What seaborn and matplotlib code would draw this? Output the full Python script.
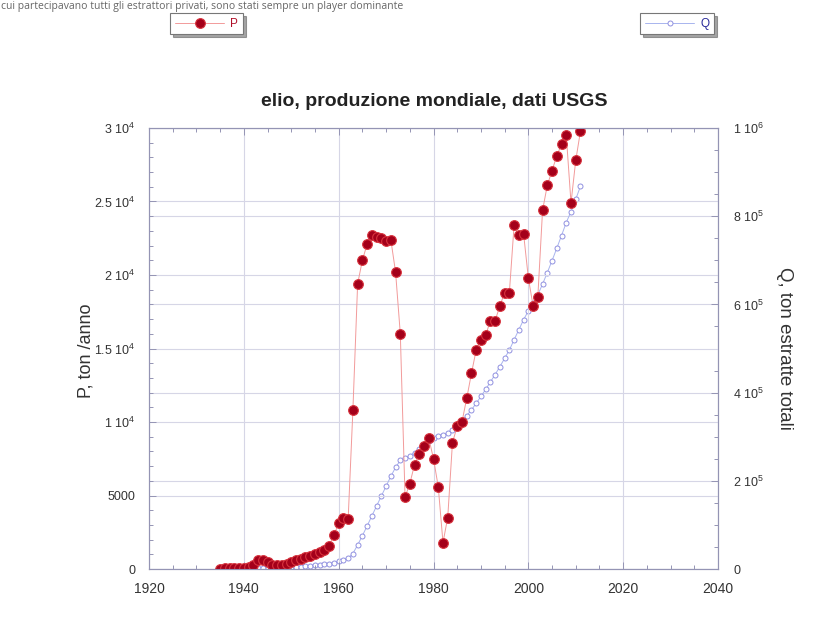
import numpy as np
import pandas as pd
import matplotlib
matplotlib.use("Agg")
import matplotlib.pyplot as plt
import seaborn as sns
from matplotlib.ticker import MultipleLocator, FixedLocator, FixedFormatter

# World helium production (P, tons/year) and cumulative extraction (Q, tons)
years = list(range(1935, 2012))
P = [30, 40, 40, 50, 60, 80, 120, 250, 600, 600,
     450, 300, 280, 300, 350, 450, 600, 700, 800, 900,
     1000, 1150, 1300, 1550, 2300, 3100, 3500, 3400, 10800, 19400,
     21000, 22100, 22700, 22600, 22500, 22300, 22400, 20200, 16000, 4900,
     5800, 7100, 7800, 8400, 8900, 7500, 5600, 1800, 3500, 8600,
     9700, 10000, 11600, 13300, 14900, 15600, 15900, 16900, 16900, 17900,
     18800, 18800, 23400, 22700, 22800, 19800, 17900, 18500, 24400, 26100,
     27100, 28100, 28900, 29500, 24900, 27800, 29800]
Q = [30, 70, 110, 160, 220, 300, 420, 670, 1270, 1870,
     2320, 2620, 2900, 3200, 3550, 4000, 4600, 5300, 6100, 7000,
     8000, 9150, 10450, 12000, 14300, 17400, 20900, 24300, 35100, 54500,
     75500, 97600, 120300, 142900, 165400, 187700, 210100, 230300, 246300, 251200,
     257000, 264100, 271900, 280300, 289200, 296700, 302300, 304100, 307600, 316200,
     325900, 335900, 347500, 360800, 375700, 391300, 407200, 424100, 441000, 458900,
     477700, 496500, 519900, 542600, 565400, 585200, 603100, 621600, 646000, 672100,
     699200, 727300, 756200, 785700, 810600, 838400, 868200]

p_ticks = [0, 5000, 10000, 15000, 20000, 25000, 30000]
p_labels = ["0", "5000", "1 10$^{4}$", "1.5 10$^{4}$", "2 10$^{4}$", "2.5 10$^{4}$", "3 10$^{4}$"]
q_ticks = [0, 200000, 400000, 600000, 800000, 1000000]
q_labels = ["0", "2 10$^{5}$", "4 10$^{5}$", "6 10$^{5}$", "8 10$^{5}$", "1 10$^{6}$"]
x_ticks = [1920, 1940, 1960, 1980, 2000, 2020, 2040]

df = pd.DataFrame({"anno": years, "P": P, "Q": Q})

sns.set_theme(style="white")
plt.rcParams["font.family"] = ["Liberation Sans", "DejaVu Sans"]
plt.rcParams["mathtext.default"] = "regular"

W, H = 838, 641
fig = plt.figure(figsize=(W / 100, H / 100), dpi=100)
fig.patch.set_facecolor("white")

ax = fig.add_axes([149 / W, 1 - 569 / H, (718 - 149) / W, (569 - 128) / H])
axq = ax.twinx()
# cumulative series sits underneath the production points
axq.set_zorder(1)
ax.set_zorder(2)
ax.patch.set_visible(False)
axq.patch.set_visible(True)
axq.patch.set_facecolor("white")

frame = "#9494b4"
gridc = "#d6d6e6"
tickc = "#333333"

sns.lineplot(data=df, x="anno", y="Q", ax=axq, color="#a8b4ee", lw=0.7,
             marker="o", markersize=3.6, markerfacecolor="white",
             markeredgecolor="#9090e0", markeredgewidth=0.7, label="Q", legend=False)
sns.lineplot(data=df, x="anno", y="P", ax=ax, color="#f29a9a", lw=0.7,
             marker="o", markersize=7.0, markerfacecolor="#a4001a",
             markeredgecolor="#d8343e", markeredgewidth=0.8, label="P", legend=False)

ax.set_xlim(1920, 2040)
ax.set_ylim(0, 30000)
axq.set_ylim(0, 1000000)

ax.xaxis.set_major_locator(FixedLocator(x_ticks))
ax.xaxis.set_minor_locator(MultipleLocator(5))
ax.yaxis.set_major_locator(FixedLocator(p_ticks))
ax.yaxis.set_major_formatter(FixedFormatter(p_labels))
ax.yaxis.set_minor_locator(MultipleLocator(1000))
axq.yaxis.set_major_locator(FixedLocator(q_ticks))
axq.yaxis.set_major_formatter(FixedFormatter(q_labels))
axq.yaxis.set_minor_locator(MultipleLocator(50000))

ax.set_xlabel("")
ax.set_ylabel("")
axq.set_ylabel("")

ax.grid(True, which="major", color=gridc, lw=0.8)
axq.grid(True, axis="y", which="major", color=gridc, lw=0.8)
axq.xaxis.grid(False)

for a in (ax, axq):
    for s in a.spines.values():
        s.set_color(frame)
        s.set_linewidth(0.8)

ax.tick_params(axis="both", which="both", direction="in", color=frame,
               labelcolor=tickc, top=True, bottom=True,
               left=True, right=False, width=0.7)
ax.tick_params(which="major", length=5)
ax.tick_params(which="minor", length=3)
ax.tick_params(axis="x", which="major", labelsize=10, pad=9.5)
ax.tick_params(axis="y", which="major", labelsize=9, pad=10)
axq.tick_params(axis="y", which="both", direction="in", color=frame,
                labelcolor=tickc, labelsize=9, right=True, left=False, width=0.7)
axq.tick_params(axis="y", which="major", length=5, pad=11)
axq.tick_params(axis="y", which="minor", length=3)

fig.text(434 / W, 1 - 101 / H, "elio, produzione mondiale, dati USGS",
         ha="center", va="center", fontsize=14, fontweight="bold", color="#222222")
fig.text(86 / W, 1 - 351 / H, "P, ton /anno", rotation=90, ha="center",
         va="center", fontsize=13, color="#333333")
fig.text(784 / W, 1 - 348 / H, "Q, ton estratte totali", rotation=-90,
         ha="center", va="center", fontsize=13.5, color="#333333")

# line of page text running above the figure
fig.text(1 / W, 1 - 0.5 / H,
         "cui partecipavano tutti gli estrattori privati, sono stati sempre un player dominante",
         ha="left", va="top", fontsize=7.5, color="#666666", family="Open Sans")

hP = ax.get_lines()[0]
hQ = axq.get_lines()[0]
leg_kw = dict(frameon=True, fancybox=False, shadow=True, fontsize=8.5,
              handlelength=4.2, handletextpad=0.5, borderpad=0.4,
              borderaxespad=0.0, edgecolor="#777777", facecolor="white",
              framealpha=1.0)
legP = fig.legend([hP], ["P"], loc="upper left",
                  bbox_to_anchor=(170 / W, 1 - 13 / H), labelcolor="#b0102a", **leg_kw)
legP.get_frame().set_linewidth(0.8)
legQ = fig.legend([hQ], ["Q"], loc="upper left",
                  bbox_to_anchor=(640 / W, 1 - 13 / H), labelcolor="#2a2a9a", **leg_kw)
legQ.get_frame().set_linewidth(0.8)

fig.savefig("out.png", dpi=100)
